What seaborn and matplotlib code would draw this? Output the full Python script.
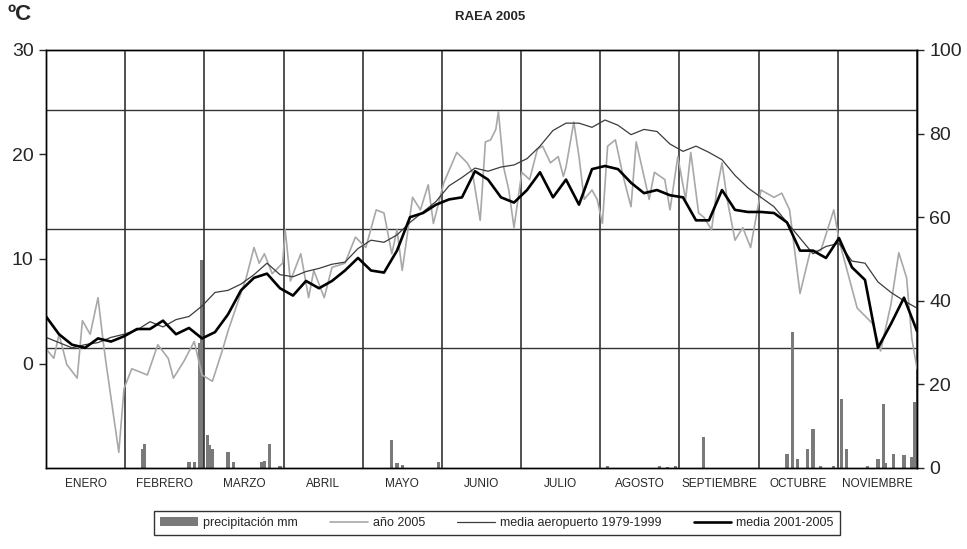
import numpy as np
import pandas as pd
import matplotlib
matplotlib.use("Agg")
import matplotlib.pyplot as plt
import seaborn as sns

# Eje X: días de enero a noviembre (11 meses de igual ancho en el gráfico)
meses = ['ENERO', 'FEBRERO', 'MARZO', 'ABRIL', 'MAYO', 'JUNIO', 'JULIO',
         'AGOSTO', 'SEPTIEMBRE', 'OCTUBRE', 'NOVIEMBRE']
dias_total = 335

# medias cada 5 días (ºC)
dias_medias = np.arange(0, 340, 5)
media_2001_2005 = [4.5, 2.8, 1.8, 1.5, 2.4, 2.1, 2.6, 3.3, 3.3, 4.1,
                   2.8, 3.4, 2.4, 3.0, 4.7, 7.0, 8.2, 8.6, 7.2, 6.5,
                   7.9, 7.2, 7.9, 8.9, 10.1, 8.9, 8.7, 10.8, 14.0, 14.4,
                   15.2, 15.7, 15.9, 18.4, 17.6, 15.9, 15.4, 16.6, 18.3, 15.9,
                   17.6, 15.2, 18.6, 18.9, 18.6, 17.3, 16.3, 16.6, 16.1, 15.9,
                   13.7, 13.7, 16.6, 14.7, 14.5, 14.5, 14.4, 13.5, 10.8, 10.8,
                   10.1, 12.0, 9.2, 8.0, 1.5, 3.8, 6.3, 3.1]
media_aeropuerto = [2.5, 2.0, 1.5, 1.8, 2.0, 2.5, 2.8, 3.2, 4.0, 3.5,
                    4.2, 4.5, 5.5, 6.8, 7.0, 7.6, 8.5, 9.6, 8.5, 8.3,
                    8.8, 9.1, 9.5, 9.7, 11.0, 11.8, 11.6, 12.3, 13.5, 14.5,
                    15.5, 17.0, 17.8, 18.7, 18.4, 18.8, 19.0, 19.6, 20.8, 22.3,
                    23.0, 23.0, 22.6, 23.3, 22.8, 21.9, 22.4, 22.2, 21.0, 20.3,
                    20.8, 20.2, 19.5, 18.0, 16.8, 15.9, 15.0, 13.5, 12.0, 10.5,
                    11.2, 11.5, 9.8, 9.6, 7.8, 6.8, 6.0, 5.3]

# año 2005 (ºC), vértices
dias_2005 = [0, 3, 5, 8, 12, 14, 17, 20, 22, 23, 28, 30, 33, 39, 43, 47, 49, 53, 57, 60,
             64, 68, 70, 73, 77, 80, 82, 84, 87, 91, 92, 94, 98, 101, 103, 107, 110, 115, 119, 123,
             127, 130, 133, 135, 137, 141, 144, 147, 149, 153, 158, 162, 164, 167, 169, 171, 173, 174, 176, 178,
             180, 183, 186, 189, 191, 194, 197, 199, 200, 203, 205, 207, 210, 212, 214, 216, 219, 222, 225, 227,
             230, 232, 234, 238, 240, 243, 246, 248, 251, 253, 256, 258, 260, 262, 265, 268, 271, 275, 280, 283,
             286, 290, 294, 298, 303, 305, 312, 318, 321, 325, 328, 331, 333, 335]
temp_2005 = [1.4, 0.5, 2.8, -0.1, -1.4, 4.1, 2.8, 6.3, 2.1, 0.2, -8.5, -2.4, -0.5, -1.1, 1.8, 0.5, -1.4, 0.2, 2.1, -1.1,
             -1.7, 1.4, 3.1, 5.3, 8.2, 11.1, 9.6, 10.5, 8.6, 9.6, 12.8, 7.9, 10.5, 6.3, 8.9, 6.3, 9.2, 9.6, 12.1, 11.1,
             14.7, 14.4, 10.5, 12.8, 8.9, 15.9, 14.7, 17.1, 13.4, 17.3, 20.2, 19.2, 18.3, 13.7, 21.2, 21.4, 22.4, 24.1, 18.8, 16.6,
             13.0, 18.3, 17.6, 20.5, 20.8, 19.2, 19.8, 17.9, 18.8, 23.1, 19.8, 15.7, 16.6, 15.7, 13.4, 20.8, 21.4, 17.9, 15.0, 21.2,
             17.9, 15.7, 18.3, 17.6, 14.7, 19.8, 15.7, 20.2, 14.4, 14.0, 12.8, 16.6, 19.2, 15.7, 11.8, 13.0, 11.1, 16.6, 15.9, 16.3,
             14.7, 6.7, 10.8, 10.8, 14.7, 11.8, 5.3, 3.8, 1.2, 5.7, 10.6, 8.2, 2.4, -0.5]

# precipitación diaria (mm)
dias_lluvia = [37, 38, 55, 57, 59, 60, 62, 63, 64, 70, 72, 83, 84, 86, 90, 133, 135, 137, 151, 216,
               236, 239, 242, 253, 285, 287, 289, 293, 295, 298, 303, 306, 308, 316, 320, 322, 323, 326, 330, 333, 334]
precip_mm = [4.6, 5.8, 1.4, 1.5, 30.0, 49.8, 7.9, 5.5, 4.6, 3.8, 1.4, 1.4, 1.6, 5.8, 0.5, 6.7, 1.2, 0.7, 1.4, 0.4,
             0.4, 0.3, 0.4, 7.5, 3.4, 32.5, 2.2, 4.6, 9.4, 0.5, 0.4, 16.6, 4.6, 0.4, 2.2, 15.4, 1.2, 3.4, 3.1, 2.6, 15.9]

# líneas horizontales del fondo (eje derecho)
lineas_h = [28.6, 57.1, 85.7]

sns.set_style("white")
plt.rcParams['font.family'] = ['Liberation Sans', 'DejaVu Sans']

fig = plt.figure(figsize=(9.67, 5.49), dpi=100)
ax = fig.add_axes([46 / 967, 1 - 468 / 549, 871 / 967, 418 / 549])
ax2 = ax.twinx()

# barras de precipitación en el eje derecho
ax2.bar(dias_lluvia, precip_mm, width=1.2, color='#7a7a7a', linewidth=0,
        label='precipitación mm')
for v in lineas_h:
    ax2.axhline(v, color='#333333', lw=1.0, zorder=0)
ax2.set_ylim(0, 100)
ax2.set_yticks(range(0, 101, 20))

# temperaturas en el eje izquierdo
df_a = pd.DataFrame({'dia': dias_2005, 'temp': temp_2005})
df_m = pd.DataFrame({'dia': dias_medias, 'aero': media_aeropuerto, 'media': media_2001_2005})
sns.lineplot(data=df_a, x='dia', y='temp', ax=ax, color='#a8a8a8', lw=1.2, label='año 2005')
sns.lineplot(data=df_m, x='dia', y='aero', ax=ax, color='#3c3c3c', lw=0.9,
             label='media aeropuerto 1979-1999')
sns.lineplot(data=df_m, x='dia', y='media', ax=ax, color='black', lw=1.9, label='media 2001-2005')
ax.set_zorder(ax2.get_zorder() + 1)
ax.patch.set_visible(False)

ax.set_xlim(0, dias_total)
ax.set_ylim(-10, 30)
ax.set_yticks([0, 10, 20, 30])
limites = np.linspace(0, dias_total, len(meses) + 1)
centros = (limites[:-1] + limites[1:]) / 2
ax.set_xticks(centros)
ax.set_xticklabels(meses, fontsize=8.5)
ax.set_xticks(limites, minor=True)
ax.grid(which='minor', axis='x', color='#333333', lw=1.2)
ax.tick_params(axis='x', which='both', length=0, pad=7)
ax.tick_params(axis='y', left=True, direction='out', length=5, width=1, labelsize=14, pad=4)
ax2.tick_params(axis='y', right=True, direction='out', length=5, width=1, labelsize=14, pad=4)
ax.set_xlabel('')
ax.set_ylabel('')
for a in (ax, ax2):
    for s in a.spines.values():
        s.set_color('black')
        s.set_linewidth(1.0)

# leyenda
ax.get_legend().remove()
h2, l2 = ax2.get_legend_handles_labels()
h1, l1 = ax.get_legend_handles_labels()
fig.legend(h2 + h1, l2 + l1, loc='center', bbox_to_anchor=(497 / 967, 1 - 523 / 549), ncol=4,
           frameon=True, fancybox=False, edgecolor='black', fontsize=9, handlelength=3.0,
           columnspacing=2.6, handletextpad=0.4, borderpad=0.5)

fig.text(490 / 967, 1 - 17 / 549, 'RAEA 2005', ha='center', va='center', fontsize=9.5, fontweight='bold')
fig.text(8 / 967, 1 - 15 / 549, 'ºC', ha='left', va='center', fontsize=16, fontweight='bold')

fig.savefig('out.png', dpi=100)
